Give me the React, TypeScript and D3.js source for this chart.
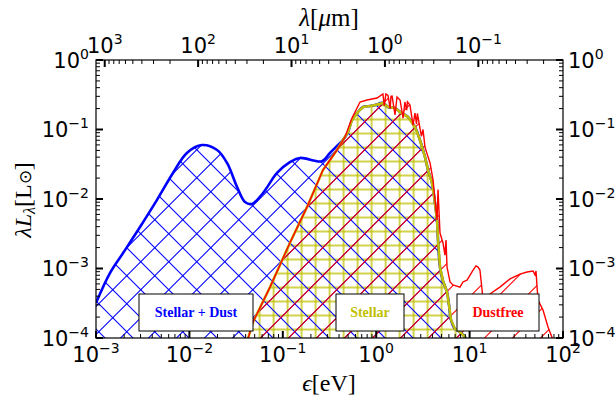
import React from "react";
import * as d3 from "d3";

// ---- data (energy in eV, luminosity in L_sun) ----
const dustEnergy = [0.001, 0.00141, 0.00195, 0.00296, 0.0045, 0.00667, 0.0094, 0.0136, 0.0198, 0.0253, 0.0324, 0.0394, 0.0468, 0.0614, 0.0867, 0.119, 0.153, 0.263, 0.32, 0.39, 0.441, 0.499, 0.551, 0.638, 0.723, 0.859, 0.971, 1.18, 1.34, 1.59, 1.8, 2.19, 2.6, 2.94, 3.33, 3.59, 3.96, 4.26, 4.48, 4.59, 4.82, 5.19, 5.73, 6.02, 6.32, 6.98, 7.89, 8.93, 10.1];
const dustLum = [3.2e-4, 8.6e-4, 1.67e-3, 3.95e-3, 9.7e-3, 2.37e-2, 4.6e-2, 5.98e-2, 5.07e-2, 3.3e-2, 1.49e-2, 9.06e-3, 8.5e-3, 1.22e-2, 2.37e-2, 3.4e-2, 3.9e-2, 3.5e-2, 4.6e-2, 6.0e-2, 7.06e-2, 9.2e-2, 0.137, 0.179, 0.211, 0.218, 0.225, 0.241, 0.211, 0.204, 0.179, 0.151, 0.109, 7.06e-2, 4.02e-2, 2.61e-2, 1.7e-2, 8.75e-3, 4.99e-3, 2.57e-3, 1.05e-3, 6.6e-4, 4.6e-4, 2.99e-4, 1.82e-4, 1.35e-4, 1.22e-4, 1.03e-4, 7.9e-5];

const stellarEnergy = [0.0348, 0.048, 0.073, 0.119, 0.182, 0.269, 0.32, 0.38, 0.441, 0.499, 0.551, 0.638, 0.723, 0.859, 0.971, 1.18, 1.34, 1.59, 1.8, 2.19, 2.6, 2.94, 3.33, 3.59, 3.96, 4.26, 4.48, 4.59, 4.82, 5.19, 5.45, 5.73, 6.02, 6.32, 6.98, 7.89, 8.93, 10.1];
const stellarLum = [4.1e-5, 1.7e-4, 5.4e-4, 2.33e-3, 7.7e-3, 2.61e-2, 3.64e-2, 5.07e-2, 7.06e-2, 9.2e-2, 0.137, 0.179, 0.211, 0.218, 0.225, 0.241, 0.211, 0.204, 0.179, 0.151, 0.109, 7.06e-2, 4.02e-2, 2.61e-2, 1.7e-2, 8.75e-3, 4.99e-3, 2.57e-3, 1.05e-3, 6.6e-4, 5.6e-4, 4.6e-4, 2.99e-4, 1.82e-4, 1.35e-4, 1.22e-4, 1.03e-4, 7.9e-5];

const dustfreeEnergy = [0.0348, 0.048, 0.073, 0.119, 0.182, 0.269, 0.32, 0.38, 0.463, 0.551, 0.671, 0.798, 1.02, 1.18, 1.22, 1.27, 1.34, 1.41, 1.44, 1.48, 1.59, 1.67, 1.8, 1.94, 2.03, 2.12, 2.16, 2.3, 2.48, 2.6, 2.7, 2.76, 2.94, 3.05, 3.17, 3.33, 3.5, 3.77, 4.06, 4.26, 4.48, 4.59, 4.82, 5.19, 5.45, 5.59, 5.73, 6.17, 6.64, 7.89, 8.49, 9.38, 10.9, 11.7, 12.3, 12.9, 13.6, 13.9, 16.5, 21.1, 27.1, 34.7, 41.2, 47.8, 50.1, 51.4, 54.0, 61.1, 69.1, 78.1, 88.3];
const dustfreeLum = [4.1e-5, 1.7e-4, 5.4e-4, 2.33e-3, 7.7e-3, 2.61e-2, 3.64e-2, 5.07e-2, 7.8e-2, 0.146, 0.249, 0.266, 0.284, 0.324, 0.22, 0.324, 0.31, 0.2, 0.3, 0.303, 0.162, 0.294, 0.266, 0.146, 0.249, 0.19, 0.25, 0.225, 0.116, 0.172, 0.12, 0.17, 0.105, 0.08, 0.1, 5.6e-2, 4.5e-2, 3.3e-2, 1.88e-2, 9.7e-3, 4.99e-3, 1.37e-2, 3.24e-3, 2.33e-3, 1.56e-3, 2.57e-3, 1.05e-3, 6.4e-4, 5.8e-4, 5.4e-4, 6.4e-4, 6.8e-4, 9.5e-4, 1.09e-3, 1.05e-3, 9.5e-4, 4.9e-4, 3.5e-4, 4.3e-4, 5.4e-4, 7.1e-4, 8.3e-4, 8.9e-4, 9.2e-4, 8.1e-4, 9.2e-4, 3.5e-4, 2.53e-4, 1.44e-4, 9.4e-5, 6.3e-5];

const energyTicks = [1e-3, 1e-2, 1e-1, 1e0, 1e1, 1e2];
const energyExps = ["\u22123", "\u22122", "\u22121", "0", "1", "2"];
const lumTicks = [1e-4, 1e-3, 1e-2, 1e-1, 1e0];
const lumExps = ["\u22124", "\u22123", "\u22122", "\u22121", "0"];
const wavelengthTicks = [1e3, 1e2, 1e1, 1e0, 1e-1];
const wavelengthExps = ["3", "2", "1", "0", "\u22121"];
const legendLabels = ["Stellar + Dust", "Stellar", "Dustfree"];

const HC = 1.23984; // eV * micron

const W = 615, H = 400;
const L = 96, R = 563, T = 60, B = 338;

const x = d3.scaleLog().domain([1e-3, 1e2]).range([L, R]);
const y = d3.scaleLog().domain([1e-4, 1]).range([B, T]);

const BLUE = "#0000ff";
const RED = "#ff0000";
const YEL = "#bfbf00";

function zip(e: number[], l: number[]) {
  return e.map((v, i) => [v, l[i]] as [number, number]);
}

const areaGen = (curve: any) =>
  d3.area<[number, number]>().x(d => x(d[0])).y0(B + 30).y1(d => y(d[1])).curve(curve);
const lineGen = (curve: any) =>
  d3.line<[number, number]>().x(d => x(d[0])).y(d => y(d[1])).curve(curve);

function Pow({ px, py, exp, anchor }: { px: number; py: number; exp: string; anchor: string }) {
  return (
    <text x={px} y={py} textAnchor={anchor} fontFamily="DejaVu Sans" fontSize={21} fill="#000">
      10<tspan dy={-9} fontSize={14}>{exp}</tspan>
    </text>
  );
}

function hatchLines(kind: "/" | "\\" | "+", step: number, phase: number) {
  const out: JSX.Element[] = [];
  if (kind === "+") {
    for (let v = phase; v < W; v += step) out.push(<line key={"v" + v} x1={v} y1={0} x2={v} y2={H} />);
    for (let v = phase; v < H; v += step) out.push(<line key={"h" + v} x1={0} y1={v} x2={W} y2={v} />);
  } else if (kind === "/") {
    for (let c = phase - 28 * 20; c < W + H; c += step) out.push(<line key={c} x1={c} y1={0} x2={c - H} y2={H} />);
  } else {
    for (let c = phase - 28 * 20; c < W; c += step) out.push(<line key={c} x1={c} y1={0} x2={c + H} y2={H} />);
  }
  return out;
}

export default function App() {
  const dust = zip(dustEnergy, dustLum);
  const stellar = zip(stellarEnergy, stellarLum);
  const dustfree = zip(dustfreeEnergy, dustfreeLum);

  const dustArea = areaGen(d3.curveCatmullRom)(dust) as string;
  const stellarArea = areaGen(d3.curveLinear)(stellar) as string;
  const dustfreeArea = areaGen(d3.curveLinear)(dustfree) as string;

  const minorE: number[] = [];
  for (let k = -3; k < 2; k++) for (let m = 2; m <= 9; m++) minorE.push(m * Math.pow(10, k));
  const minorL: number[] = [];
  for (let k = -4; k < 0; k++) for (let m = 2; m <= 9; m++) minorL.push(m * Math.pow(10, k));
  const minorW: number[] = [];
  for (let k = -2; k <= 3; k++) for (let m = 2; m <= 9; m++) {
    const lam = m * Math.pow(10, k);
    const e = HC / lam;
    if (e >= 1e-3 && e <= 1e2) minorW.push(e);
  }

  const legendBoxes = [
    { x0: 139, x1: 253, color: BLUE },
    { x0: 336, x1: 404, color: YEL },
    { x0: 457, x1: 539, color: RED },
  ];

  return (
    <svg width={W} height={H} style={{ position: "absolute", left: 0, top: 0, background: "#fff" }}>
      <defs>
        <clipPath id="plot"><rect x={L} y={T} width={R - L} height={B - T} /></clipPath>
        <clipPath id="cDust"><path d={dustArea} /></clipPath>
        <clipPath id="cStellar"><path d={stellarArea} /></clipPath>
        <clipPath id="cFree"><path d={dustfreeArea} /></clipPath>
      </defs>
      <rect x={0} y={0} width={W} height={H} fill="#fff" />
      <g clipPath="url(#plot)">
        <g clipPath="url(#cStellar)" stroke={YEL} strokeWidth={2} strokeOpacity={0.7}>
          {hatchLines("+", 14, 7.6)}
        </g>
        <g clipPath="url(#cDust)" stroke={BLUE} strokeWidth={1.1}>
          {hatchLines("/", 28, 10.5)}
          {hatchLines("\\", 28, 19)}
        </g>
        <g clipPath="url(#cFree)" stroke={RED} strokeWidth={1.1}>
          {hatchLines("/", 28, 10.5)}
        </g>
        <path d={lineGen(d3.curveCatmullRom)(dust) as string} fill="none" stroke={BLUE} strokeWidth={2.6} />
        <path d={lineGen(d3.curveLinear)(stellar) as string} fill="none" stroke={YEL} strokeWidth={2.6} />
        <path d={lineGen(d3.curveLinear)(dustfree) as string} fill="none" stroke={RED} strokeWidth={1.4} />
      </g>

      {legendBoxes.map((b, i) => (
        <g key={i}>
          <rect x={b.x0} y={294} width={b.x1 - b.x0} height={37} fill="#fff" stroke="#000" strokeWidth={1} />
          <text x={(b.x0 + b.x1) / 2} y={317} textAnchor="middle" fontFamily="Liberation Serif" fontWeight="bold" fontSize={14} fill={b.color}>
            {legendLabels[i]}
          </text>
        </g>
      ))}

      <rect x={L} y={T} width={R - L} height={B - T} fill="none" stroke="#000" strokeWidth={1.2} />

      <g stroke="#000">
        {energyTicks.map(e => (
          <line key={"eb" + e} x1={x(e)} x2={x(e)} y1={B} y2={B - 7} strokeWidth={2} />
        ))}
        {minorE.map(e => (
          <line key={"mb" + e} x1={x(e)} x2={x(e)} y1={B} y2={B - 4} strokeWidth={1} />
        ))}
        {wavelengthTicks.map(w => (
          <line key={"wt" + w} x1={x(HC / w)} x2={x(HC / w)} y1={T} y2={T + 7} strokeWidth={2} />
        ))}
        {minorW.map(e => (
          <line key={"mt" + e} x1={x(e)} x2={x(e)} y1={T} y2={T + 4} strokeWidth={1} />
        ))}
        {lumTicks.map(l => (
          <g key={"lt" + l} strokeWidth={2}>
            <line x1={L} x2={L + 7} y1={y(l)} y2={y(l)} />
            <line x1={R} x2={R - 7} y1={y(l)} y2={y(l)} />
          </g>
        ))}
        {minorL.map(l => (
          <g key={"ml" + l} strokeWidth={1}>
            <line x1={L} x2={L + 4} y1={y(l)} y2={y(l)} />
            <line x1={R} x2={R - 4} y1={y(l)} y2={y(l)} />
          </g>
        ))}
      </g>

      {energyTicks.map((e, i) => (
        <Pow key={"el" + e} px={x(e)} py={362} exp={energyExps[i]} anchor="middle" />
      ))}
      {wavelengthTicks.map((w, i) => (
        <Pow key={"wl" + w} px={x(HC / w)} py={53} exp={wavelengthExps[i]} anchor="middle" />
      ))}
      {lumTicks.map((l, i) => (
        <g key={"ll" + l}>
          <Pow px={89} py={y(l) + 7.5} exp={lumExps[i]} anchor="end" />
          <Pow px={568} py={y(l) + 7.5} exp={lumExps[i]} anchor="start" />
        </g>
      ))}

      <text x={329} y={391} textAnchor="middle" fontFamily="Liberation Serif" fontSize={24}>
        <tspan fontStyle="italic">ϵ</tspan>[eV]
      </text>
      <text x={329} y={26} textAnchor="middle" fontFamily="Liberation Serif" fontSize={25}>
        <tspan fontStyle="italic">λ</tspan>[<tspan fontStyle="italic">μ</tspan>m]
      </text>
      <text transform="translate(31,200) rotate(-90)" textAnchor="middle" fontFamily="Liberation Serif" fontSize={24}>
        <tspan fontStyle="italic">λL</tspan>
        <tspan fontStyle="italic" fontSize={16} dy={4}>λ</tspan>
        <tspan dy={-4}>[L</tspan>
        <tspan fontSize={17}>⊙</tspan>
        <tspan>]</tspan>
      </text>
    </svg>
  );
}
